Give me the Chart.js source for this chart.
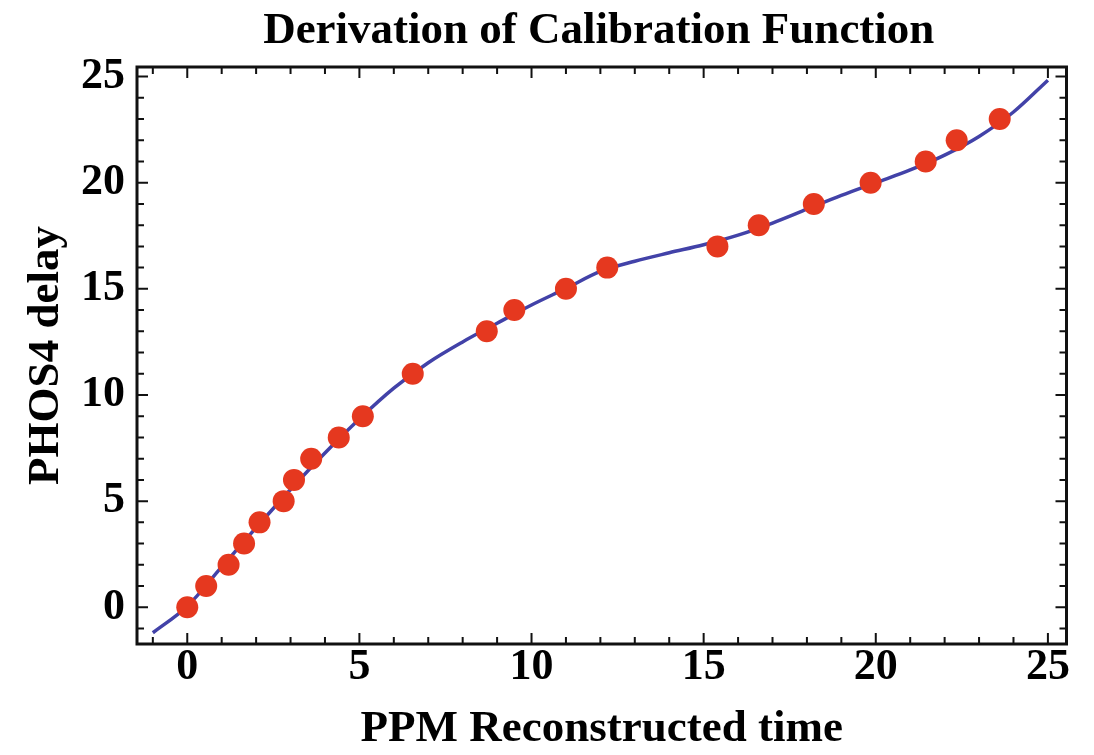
<!DOCTYPE html>
<html>
<head>
<meta charset="utf-8">
<script src="https://cdn.jsdelivr.net/npm/chart.js@4.4.1/dist/chart.umd.min.js"></script>
<style>
  html, body { margin: 0; padding: 0; background: #ffffff; }
  #wrap { width: 1094px; height: 755px; }
</style>
</head>
<body>
<div id="wrap"><canvas id="c" width="1094" height="755"></canvas></div>
<script>
// Texts
const chartTitle = 'Derivation of Calibration Function';
const xAxisLabel = 'PPM Reconstructed time';
const yAxisLabel = 'PHOS4 delay';

// Measured calibration points: reconstructed time vs. delay setting
const measX = [0, 0.55, 1.2, 1.65, 2.1, 2.8, 3.1, 3.6, 4.4, 5.1, 6.55, 8.7, 9.5, 11.0, 12.2, 15.4, 16.6, 18.2, 19.85, 21.45, 22.35, 23.6];
const measY = [0, 1, 2, 3, 4, 5, 6, 7, 8, 9, 11, 13, 14, 15, 16, 17, 18, 19, 20, 21, 22, 23];

// Fitted calibration curve, sampled
const fitX = [-1, 0, 1, 2, 3, 4, 5, 6, 7, 8, 9, 10, 11, 12, 13, 14, 15, 16, 17, 18, 19, 20, 21, 22, 23, 24, 25];
const fitY = [-1.2, 0.05, 1.9, 3.75, 5.55, 7.27, 8.87, 10.32, 11.52, 12.5, 13.38, 14.24, 15.02, 15.82, 16.3, 16.7, 17.08, 17.53, 18.1, 18.75, 19.4, 20.0, 20.6, 21.3, 22.18, 23.33, 24.83];

// Tick labels
const xTicks = [0, 5, 10, 15, 20, 25];
const yTicks = [0, 5, 10, 15, 20, 25];

const SERIF = '"Liberation Serif", "Times New Roman", serif';
const FRAME = '#111111';

// Frame with inward ticks on all four sides, plus the title
const frameTicks = {
  id: 'frameTicks',
  afterDraw(chart) {
    const { ctx, chartArea: a, scales: { x, y } } = chart;
    ctx.save();
    ctx.strokeStyle = FRAME;
    ctx.lineCap = 'butt';

    ctx.lineWidth = 2;
    const major = 11, minor = 7;
    for (let v = Math.ceil(x.min); v <= x.max; v++) {
      const len = (v % 5 === 0) ? major : minor;
      const px = x.getPixelForValue(v);
      ctx.beginPath();
      ctx.moveTo(px, a.bottom); ctx.lineTo(px, a.bottom - len);
      ctx.moveTo(px, a.top); ctx.lineTo(px, a.top + len);
      ctx.stroke();
    }
    for (let v = Math.ceil(y.min); v <= y.max; v++) {
      const len = (v % 5 === 0) ? major : minor;
      const py = y.getPixelForValue(v);
      ctx.beginPath();
      ctx.moveTo(a.left, py); ctx.lineTo(a.left + len, py);
      ctx.moveTo(a.right, py); ctx.lineTo(a.right - len, py);
      ctx.stroke();
    }

    ctx.lineWidth = 3;
    ctx.strokeRect(a.left, a.top, a.right - a.left, a.bottom - a.top);

    ctx.fillStyle = '#000000';
    ctx.font = 'bold 45px ' + SERIF;
    ctx.textAlign = 'center';
    ctx.textBaseline = 'alphabetic';
    ctx.fillText(chartTitle, (a.left + a.right) / 2 - 3, 43);
    ctx.restore();
  }
};

new Chart(document.getElementById('c'), {
  type: 'scatter',
  data: {
    datasets: [
      {
        label: 'measured',
        data: measX.map((v, i) => ({ x: v, y: measY[i] })),
        pointStyle: 'circle',
        pointRadius: 11,
        pointBackgroundColor: '#e5381f',
        pointBorderWidth: 0,
        showLine: false,
        order: 0
      },
      {
        label: 'fit',
        type: 'line',
        data: fitX.map((v, i) => ({ x: v, y: fitY[i] })),
        borderColor: '#4242a8',
        borderWidth: 3.5,
        pointRadius: 0,
        fill: false,
        cubicInterpolationMode: 'monotone',
        order: 1
      }
    ]
  },
  options: {
    responsive: false,
    animation: false,
    events: [],
    layout: { padding: { top: 67, right: 27.5, bottom: 0, left: 0 } },
    plugins: {
      legend: { display: false },
      tooltip: { enabled: false },
      title: { display: false }
    },
    scales: {
      x: {
        type: 'linear',
        min: -1.46,
        max: 25.54,
        grid: { display: false, drawTicks: false },
        border: { display: false },
        afterBuildTicks: s => { s.ticks = xTicks.map(v => ({ value: v })); },
        afterFit: s => { s.height = 111; },
        ticks: {
          color: '#000000',
          padding: 2,
          maxRotation: 0,
          autoSkip: false,
          font: { family: SERIF, size: 44, weight: 'bold', lineHeight: 1 }
        },
        title: {
          display: true,
          text: xAxisLabel,
          color: '#000000',
          padding: { top: 0, bottom: 3 },
          font: { family: SERIF, size: 45, weight: 'bold', lineHeight: 1 }
        }
      },
      y: {
        type: 'linear',
        min: -1.73,
        max: 25.45,
        grid: { display: false, drawTicks: false },
        border: { display: false },
        afterBuildTicks: s => { s.ticks = yTicks.map(v => ({ value: v })); },
        afterFit: s => { s.width = 137; },
        ticks: {
          color: '#000000',
          padding: 12,
          autoSkip: false,
          font: { family: SERIF, size: 44, weight: 'bold', lineHeight: 1 }
        },
        title: {
          display: true,
          text: yAxisLabel,
          color: '#000000',
          padding: { top: 24, bottom: 0 },
          font: { family: SERIF, size: 45, weight: 'bold', lineHeight: 1 }
        }
      }
    }
  },
  plugins: [frameTicks]
});
</script>
</body>
</html>
